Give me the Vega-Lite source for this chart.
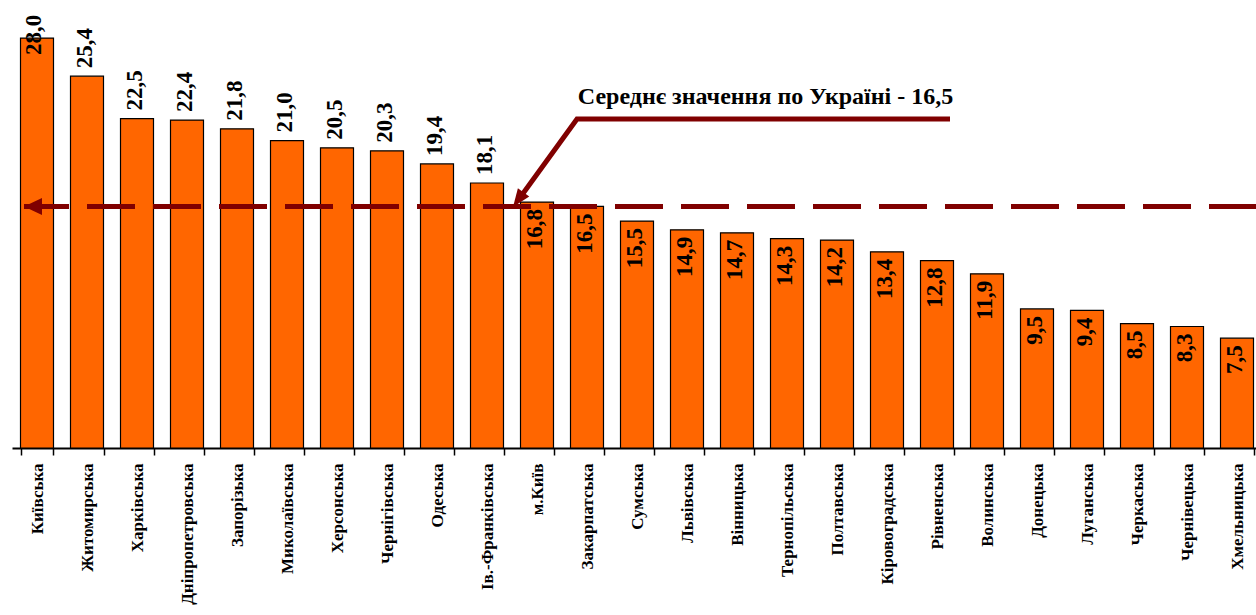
{
  "$schema": "https://vega.github.io/schema/vega-lite/v6.json",
  "width": 1244,
  "height": 448,
  "autosize": {"type": "none"},
  "padding": {"left": 12, "top": 0, "right": 0, "bottom": 167},
  "background": "white",
  "config": {"view": {"stroke": null}},
  "datasets": {
    "regions": [
      {"region": "Київська", "value": 28.0, "label": "28,0"},
      {"region": "Житомирська", "value": 25.4, "label": "25,4"},
      {"region": "Харківська", "value": 22.5, "label": "22,5"},
      {"region": "Дніпропетровська", "value": 22.4, "label": "22,4"},
      {"region": "Запорізька", "value": 21.8, "label": "21,8"},
      {"region": "Миколаївська", "value": 21.0, "label": "21,0"},
      {"region": "Херсонська", "value": 20.5, "label": "20,5"},
      {"region": "Чернігівська", "value": 20.3, "label": "20,3"},
      {"region": "Одеська", "value": 19.4, "label": "19,4"},
      {"region": "Ів.-Франківська", "value": 18.1, "label": "18,1"},
      {"region": "м.Київ", "value": 16.8, "label": "16,8"},
      {"region": "Закарпатська", "value": 16.5, "label": "16,5"},
      {"region": "Сумська", "value": 15.5, "label": "15,5"},
      {"region": "Львівська", "value": 14.9, "label": "14,9"},
      {"region": "Вінницька", "value": 14.7, "label": "14,7"},
      {"region": "Тернопільська", "value": 14.3, "label": "14,3"},
      {"region": "Полтавська", "value": 14.2, "label": "14,2"},
      {"region": "Кіровоградська", "value": 13.4, "label": "13,4"},
      {"region": "Рівненська", "value": 12.8, "label": "12,8"},
      {"region": "Волинська", "value": 11.9, "label": "11,9"},
      {"region": "Донецька", "value": 9.5, "label": "9,5"},
      {"region": "Луганська", "value": 9.4, "label": "9,4"},
      {"region": "Черкаська", "value": 8.5, "label": "8,5"},
      {"region": "Чернівецька", "value": 8.3, "label": "8,3"},
      {"region": "Хмельницька", "value": 7.5, "label": "7,5"}
    ],
    "avg": [{"x0": 0.24, "x1": 25, "avg": 16.5}],
    "note": [{"x": 15.07, "y": 23.5, "text": "Середнє значення по Україні - 16,5"}],
    "callout": [
      {"order": 1, "x": 18.76, "y": 22.47},
      {"order": 2, "x": 11.3, "y": 22.47},
      {"order": 3, "x": 10.14, "y": 17.01}
    ],
    "tip": [{"x": 10.02, "y": 16.46}]
  },
  "resolve": {"scale": {"x": "independent"}},
  "layer": [
    {
      "data": {"name": "regions"},
      "encoding": {
        "x": {
          "field": "region",
          "type": "nominal",
          "sort": null,
          "scale": {
            "domain": ["Київська","Житомирська","Харківська","Дніпропетровська","Запорізька","Миколаївська","Херсонська","Чернігівська","Одеська","Ів.-Франківська","м.Київ","Закарпатська","Сумська","Львівська","Вінницька","Тернопільська","Полтавська","Кіровоградська","Рівненська","Волинська","Донецька","Луганська","Черкаська","Чернівецька","Хмельницька"],
            "range": [0, 1250],
            "paddingInner": 0.34,
            "paddingOuter": 0.17
          },
          "axis": {
            "title": null,
            "labelAngle": -90,
            "labelFont": "Liberation Serif",
            "labelFontWeight": "bold",
            "labelFontSize": 17,
            "labelColor": "black",
            "labelPadding": 8,
            "labelOverlap": false,
            "labelLimit": 300,
            "tickBand": "extent",
            "tickSize": 7,
            "tickColor": "black",
            "tickWidth": 1.5,
            "domainColor": "black",
            "domainWidth": 2
          }
        },
        "y": {
          "field": "value",
          "type": "quantitative",
          "scale": {"domain": [0, 30.6], "nice": false},
          "axis": null
        }
      },
      "layer": [
        {"mark": {"type": "bar", "fill": "#FF6600", "stroke": "black", "strokeWidth": 1.2}},
        {
          "transform": [{"filter": "datum.value >= 18 && datum.value < 28"}],
          "mark": {"type": "text", "angle": 270, "align": "left", "baseline": "middle", "dx": 8, "dy": -2, "font": "Liberation Serif", "fontWeight": "bold", "fontSize": 23, "color": "black"},
          "encoding": {"text": {"field": "label"}}
        },
        {
          "transform": [{"filter": "datum.value < 18"}],
          "mark": {"type": "text", "angle": 270, "align": "right", "baseline": "middle", "dx": -7, "dy": -2, "font": "Liberation Serif", "fontWeight": "bold", "fontSize": 23, "color": "black"},
          "encoding": {"text": {"field": "label"}}
        },
        {
          "transform": [{"filter": "datum.value >= 28"}],
          "mark": {"type": "text", "angle": 270, "align": "left", "baseline": "middle", "dx": -17, "dy": -3, "font": "Liberation Serif", "fontWeight": "bold", "fontSize": 23, "color": "black"},
          "encoding": {"text": {"field": "label"}}
        }
      ]
    },
    {
      "layer": [
        {
          "data": {"name": "avg"},
          "mark": {"type": "rule", "color": "#800000", "strokeWidth": 5, "strokeDash": [48, 18], "strokeDashOffset": 3, "strokeCap": "butt"},
          "encoding": {
            "x": {"field": "x0", "type": "quantitative", "scale": {"domain": [0, 25], "range": [0, 1250], "nice": false, "zero": false}, "axis": null},
            "x2": {"field": "x1"},
            "y": {"field": "avg", "type": "quantitative", "scale": {"domain": [0, 30.6], "nice": false}, "axis": null}
          }
        },
        {
          "data": {"name": "avg"},
          "mark": {"type": "point", "shape": "M 0 0 L 1.8 -0.85 L 1.8 0.85 Z", "size": 400, "filled": true, "color": "#800000", "opacity": 1, "strokeWidth": 0},
          "encoding": {
            "x": {"field": "x0", "type": "quantitative"},
            "y": {"field": "avg", "type": "quantitative"}
          }
        },
        {
          "data": {"name": "callout"},
          "mark": {"type": "line", "color": "#800000", "strokeWidth": 5, "strokeCap": "butt", "strokeJoin": "miter"},
          "encoding": {
            "x": {"field": "x", "type": "quantitative"},
            "y": {"field": "y", "type": "quantitative"},
            "order": {"field": "order"}
          }
        },
        {
          "data": {"name": "tip"},
          "mark": {"type": "point", "shape": "M 0 0 L -1.8 -0.7 L -1.8 0.7 Z", "size": 400, "angle": 126, "filled": true, "color": "#800000", "opacity": 1, "strokeWidth": 0},
          "encoding": {
            "x": {"field": "x", "type": "quantitative"},
            "y": {"field": "y", "type": "quantitative"}
          }
        },
        {
          "data": {"name": "note"},
          "mark": {"type": "text", "align": "center", "baseline": "alphabetic", "font": "Liberation Serif", "fontWeight": "bold", "fontSize": 24, "color": "black"},
          "encoding": {
            "x": {"field": "x", "type": "quantitative"},
            "y": {"field": "y", "type": "quantitative"},
            "text": {"field": "text"}
          }
        }
      ]
    }
  ]
}
